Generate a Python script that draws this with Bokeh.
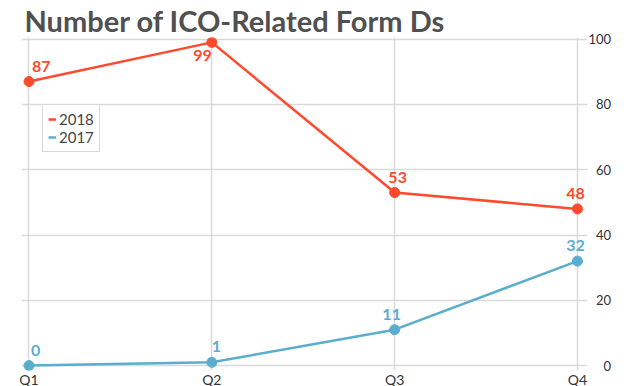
from bokeh.plotting import figure
from bokeh.models import (Range1d, FixedTicker, ColumnDataSource, Legend, LegendItem)
from bokeh.core.properties import value
from bokeh.embed import file_html
from bokeh.resources import INLINE

quarters = ["Q1", "Q2", "Q3", "Q4"]
y2018 = [87, 99, 53, 48]
y2017 = [0, 1, 11, 32]
y_ticks = [0, 20, 40, 60, 80, 100]
title_text = "Number of ICO-Related Form Ds"

RED = "#ff4a2e"
BLUE = "#5badd0"
FONT = "Lato"
FIGSP = "\u2007"  # figure space, to right-align the value labels

xs = list(range(len(quarters)))

p = figure(frame_width=566, frame_height=333, output_backend="svg", toolbar_location=None,
           x_range=Range1d(-0.041, 3.055), y_range=Range1d(-1.5, 100.5),
           y_axis_location="right",
           min_border_left=21, min_border_right=37, min_border_top=35, min_border_bottom=0)

p.title.text = title_text
p.title.text_font = FONT
p.title.text_font_size = "29px"
p.title.text_font_style = "bold"
p.title.text_color = "#505050"
p.title.align = "left"
p.title.offset = 3
p.title.standoff = 0

p.outline_line_color = None
p.background_fill_color = "white"

# grid
p.xgrid.ticker = FixedTicker(ticks=xs)
p.ygrid.ticker = FixedTicker(ticks=y_ticks)
p.xgrid.grid_line_color = "#d9d9d9"
p.ygrid.grid_line_color = "#d9d9d9"
p.xgrid.grid_line_width = 1.5
p.ygrid.grid_line_width = 1.5

# axes
p.xaxis.ticker = FixedTicker(ticks=xs)
p.xaxis.major_label_overrides = {i: q for i, q in enumerate(quarters)}
p.yaxis.ticker = FixedTicker(ticks=y_ticks)
width_max = max(len(str(t)) for t in y_ticks)
p.yaxis.major_label_overrides = {t: FIGSP * (width_max - len(str(t))) + str(t) for t in y_ticks}
for ax in (p.xaxis[0], p.yaxis[0]):
    ax.axis_line_color = None
    ax.major_tick_line_color = None
    ax.minor_tick_line_color = None
    ax.major_tick_out = 0
    ax.major_tick_in = 0
    ax.major_label_text_font = FONT
    ax.major_label_text_color = "#333333"
p.xaxis.major_label_text_font_size = "14px"
p.yaxis.major_label_text_font_size = "13px"
p.xaxis.major_label_standoff = 0
p.yaxis.major_label_standoff = 1

src18 = ColumnDataSource(dict(x=xs, y=y2018, t=[str(v) for v in y2018],
                              dx=[3, 0, 3, -2], dy=[-10, 8, -10, -10],
                              al=["left", "right", "center", "center"],
                              bl=["bottom", "top", "bottom", "bottom"]))
src17 = ColumnDataSource(dict(x=xs, y=y2017, t=[str(v) for v in y2017],
                              dx=[2, 0, -3, -2], dy=[-10, -10, -10, -10],
                              al=["left", "left", "center", "center"], bl=["bottom"] * 4))

l18 = p.line("x", "y", source=src18, line_color=RED, line_width=2.5)
p.scatter("x", "y", source=src18, size=10, fill_color=RED, line_color=RED)
l17 = p.line("x", "y", source=src17, line_color=BLUE, line_width=2.5)
p.scatter("x", "y", source=src17, size=10, fill_color=BLUE, line_color=BLUE)

for src, col in ((src18, RED), (src17, BLUE)):
    p.text("x", "y", text="t", source=src, x_offset="dx", y_offset="dy",
           text_align="al", text_baseline="bl",
           text_font=value(FONT), text_font_size="16px", text_font_style="bold",
           text_color=col)

legend = Legend(items=[LegendItem(label="2018", renderers=[l18]),
                       LegendItem(label="2017", renderers=[l17])],
                location=(21, 218))
legend.label_text_font = FONT
legend.label_text_font_size = "15px"
legend.label_text_color = "#444444"
legend.glyph_width = 8
legend.glyph_height = 16
legend.label_standoff = 3
legend.label_height = 16
legend.spacing = 0
legend.padding = 5
legend.margin = 0
legend.border_line_color = "#b0b0b0"
legend.border_line_width = 1.5
legend.background_fill_alpha = 1
p.add_layout(legend, "center")

open("out.html", "w").write(file_html(p, INLINE))
